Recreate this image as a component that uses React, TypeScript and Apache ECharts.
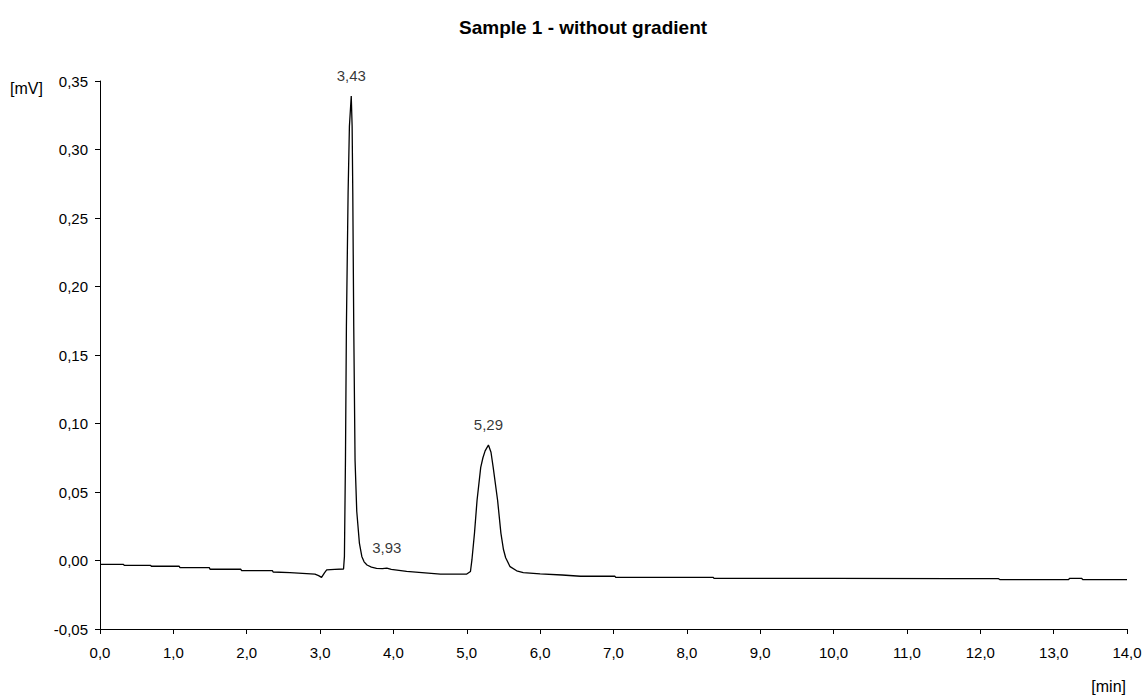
import React, { useEffect, useRef } from "react";
import * as echarts from "echarts";

// Retention time [min]
const times: number[] = [
  0.0, 0.32, 0.33, 0.69, 0.7, 1.08, 1.09, 1.49, 1.5, 1.92, 1.93, 2.35, 2.36, 2.59, 2.93, 2.98, 3.02, 3.06, 3.09, 3.2, 3.32,
  3.332, 3.346, 3.359, 3.382, 3.4, 3.425, 3.437, 3.446, 3.459, 3.477, 3.5, 3.536, 3.569, 3.6, 3.64, 3.7, 3.77, 3.85, 3.91,
  3.97, 4.18, 4.64, 5.0, 5.05, 5.07, 5.105, 5.14, 5.19, 5.22, 5.25, 5.295, 5.33, 5.36, 5.42, 5.465, 5.5, 5.53, 5.59, 5.68,
  5.77, 6.0, 6.3, 6.55, 7.02, 7.03, 8.36, 8.37, 10.0, 11.6, 12.25, 12.27, 13.2, 13.22, 13.38, 13.4, 14.0,
];

// Detector signal [mV]
const signal: number[] = [
  -0.0028, -0.0028, -0.0035, -0.0035, -0.0042, -0.0042, -0.0052, -0.0052, -0.0064, -0.0064, -0.0074, -0.0074, -0.0084,
  -0.0089, -0.0099, -0.011, -0.0123, -0.009, -0.0069, -0.0065, -0.0062,
  0.003, 0.073, 0.171, 0.268, 0.317, 0.339, 0.317, 0.268, 0.171, 0.073, 0.036, 0.0127, 0.003, -0.001, -0.0033, -0.0048,
  -0.0057, -0.006, -0.0056, -0.0065, -0.0079, -0.0099, -0.0099, -0.008, 0.0004, 0.02, 0.044, 0.068, 0.075, 0.08, 0.0843,
  0.079, 0.068, 0.044, 0.02, 0.008, 0.002, -0.0045, -0.0075, -0.0089, -0.0098, -0.0106, -0.0115, -0.0115, -0.0123,
  -0.0123, -0.013, -0.013, -0.0133, -0.0133, -0.014, -0.014, -0.013, -0.013, -0.014, -0.014,
];

// Peak annotations
const peakTimes: number[] = [3.425, 3.91, 5.295];
const peakValues: number[] = [0.339, -0.0056, 0.0843];
const peakLabels: string[] = ["3,43", "3,93", "5,29"];

const titleText = "Sample 1 - without gradient";
const yUnit = "[mV]";
const xUnit = "[min]";

const FONT = "'Liberation Sans', Arial, Helvetica, sans-serif";

export default function App() {
  const ref = useRef<HTMLDivElement>(null);

  useEffect(() => {
    document.body.style.margin = "0";
    if (!ref.current) return;
    const chart = echarts.init(ref.current, undefined, { renderer: "svg" });
    const lineData = times.map((t, i) => [t, signal[i]]);
    const peakData = peakTimes.map((t, i) => ({
      value: [t, peakValues[i]],
      label: { formatter: peakLabels[i] },
    }));
    chart.setOption({
      animation: false,
      backgroundColor: "#fff",
      textStyle: { fontFamily: FONT },
      title: {
        text: titleText,
        left: 454,
        top: 13,
        textStyle: { fontFamily: FONT, fontSize: 19, fontWeight: "bold", color: "#000" },
      },
      grid: { left: 100, right: 19, top: 81, bottom: 69, containLabel: false },
      xAxis: {
        type: "value",
        min: 0,
        max: 14,
        interval: 1,
        axisLine: { show: true, onZero: false, lineStyle: { color: "#000", width: 1 } },
        axisTick: { show: true, length: 5, lineStyle: { color: "#000" } },
        splitLine: { show: false },
        axisLabel: {
          margin: 16,
          fontSize: 15,
          color: "#000",
          fontFamily: FONT,
          formatter: (v: number) => v.toFixed(1).replace(".", ","),
        },
      },
      yAxis: {
        type: "value",
        min: -0.05,
        max: 0.35,
        interval: 0.05,
        axisLine: { show: true, onZero: false, lineStyle: { color: "#000", width: 1 } },
        axisTick: { show: true, length: 5, lineStyle: { color: "#000" } },
        splitLine: { show: false },
        axisLabel: {
          margin: 12,
          fontSize: 15,
          color: "#000",
          fontFamily: FONT,
          formatter: (v: number) => v.toFixed(2).replace(".", ","),
        },
      },
      series: [
        {
          type: "line",
          data: lineData,
          showSymbol: false,
          symbol: "none",
          lineStyle: { color: "#000", width: 1.3 },
          silent: true,
        },
        {
          type: "scatter",
          data: peakData,
          symbolSize: 1,
          itemStyle: { color: "rgba(0,0,0,0)" },
          silent: true,
          label: {
            show: true,
            position: "top",
            distance: 13,
            fontSize: 15,
            color: "#000",
            fontFamily: FONT,
          },
        },
      ],
      graphic: [
        {
          type: "text",
          left: 10,
          top: 80,
          style: { text: yUnit, fontSize: 16, fill: "#000", fontFamily: FONT },
        },
        {
          type: "text",
          right: 20,
          top: 678,
          style: { text: xUnit, fontSize: 16, fill: "#000", fontFamily: FONT },
        },
      ],
    });
    return () => chart.dispose();
  }, []);

  return <div ref={ref} style={{ width: 1146, height: 698 }} />;
}
